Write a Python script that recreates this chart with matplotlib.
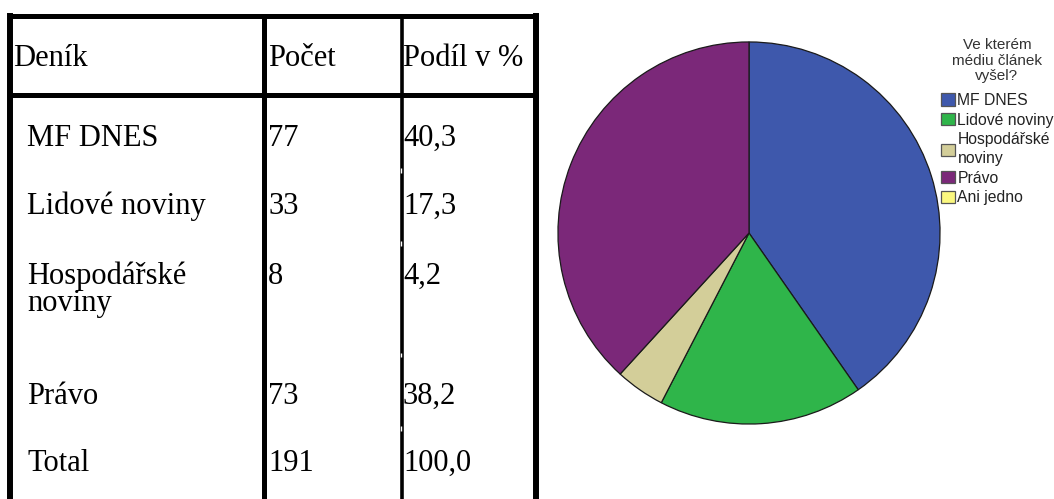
import matplotlib
matplotlib.use("Agg")
import matplotlib.pyplot as plt
from matplotlib.patches import Patch

# data
deniky = ["MF DNES", "Lidové noviny", "Hospodářské\nnoviny", "Právo"]
pocet = [77, 33, 8, 73]
legend_labels = ["MF DNES", "Lidové noviny", "Hospodářské\nnoviny", "Právo", "Ani jedno"]
legend_counts = [77, 33, 8, 73, 0]
colors = ["#3e58ac", "#2fb54a", "#d3ce99", "#7b2879", "#fbf87f"]
headers = ["Deník", "Počet", "Podíl v %"]
legend_title = "Ve kterém\nmédiu článek\nvyšel?"

total = sum(pocet)
podil = [f"{100 * p / total:.1f}".replace(".", ",") for p in pocet]

W, H = 1054, 499
fig = plt.figure(figsize=(W / 100, H / 100), dpi=100)

# table drawn in pixel coordinates
ax_t = fig.add_axes([0, 0, 1, 1])
ax_t.set_xlim(0, W)
ax_t.set_ylim(H, 0)
ax_t.axis("off")

serif = dict(family="Liberation Serif", size=22, color="black")
line_kw = dict(color="black", solid_capstyle="projecting")

ax_t.plot([10, 536], [15.5, 15.5], lw=3.6, **line_kw)
ax_t.plot([10, 536], [94.5, 94.5], lw=3.6, **line_kw)
ax_t.plot([10, 10], [15.5, H + 5], lw=4.3, **line_kw)
ax_t.plot([264, 264], [15.5, H + 5], lw=3.6, **line_kw)
ax_t.plot([401.5, 401.5], [15.5, H + 5], lw=2.6, **line_kw)
ax_t.plot([536, 536], [15.5, H + 5], lw=4.3, **line_kw)
# small breaks in the middle line
for y0, y1 in [(168, 173), (241, 246), (353, 357), (426, 431)]:
    ax_t.plot([400.5, 400.5], [y0, y1], lw=1.0, color="white", solid_capstyle="butt")

col_x = [13, 268, 403]
for x, h in zip(col_x, headers):
    ax_t.text(x, 66, h, ha="left", va="baseline", **serif)

row_base = [146, 214, 284, 404]
for y, name, n, p in zip(row_base, deniky, pocet, podil):
    for k, part in enumerate(name.split("\n")):
        ax_t.text(27, y + 27 * k, part, ha="left", va="baseline", **serif)
    ax_t.text(col_x[1], y, str(n), ha="left", va="baseline", **serif)
    ax_t.text(col_x[2], y, p, ha="left", va="baseline", **serif)
ax_t.text(27, 471, "Total", ha="left", va="baseline", **serif)
ax_t.text(col_x[1], 471, str(total), ha="left", va="baseline", **serif)
ax_t.text(col_x[2], 471, f"{100 * total / total:.1f}".replace(".", ","),
          ha="left", va="baseline", **serif)

# pie
cx, cy, r = 749, 233, 192
ax_p = fig.add_axes([(cx - r) / W, (H - cy - r) / H, 2 * r / W, 2 * r / H])
vals = [c for c in legend_counts if c > 0]
cols = [col for col, c in zip(colors, legend_counts) if c > 0]
ax_p.pie(vals, colors=cols, startangle=90, counterclock=False,
         wedgeprops=dict(edgecolor="#1a1a1a", linewidth=0.9))
ax_p.set_xlim(-1.005, 1.005)
ax_p.set_ylim(-1.005, 1.005)
ax_p.set_aspect("equal")

# legend title placed separately, then the entries
ax_t.text(997, 38, legend_title, ha="center", va="top", multialignment="center",
          linespacing=1.15, family="Liberation Sans", size=11, color="#333333")

handles = [Patch(facecolor=c, edgecolor="#555555", linewidth=0.9) for c in colors]
leg = fig.legend(handles, legend_labels, loc="upper left",
                 bbox_to_anchor=(941 / W, 1 - 93 / H), frameon=False,
                 prop=dict(family="Liberation Sans", size=11.3),
                 handlelength=0.9, handleheight=0.83, handletextpad=0.15,
                 labelspacing=0.3, borderpad=0, borderaxespad=0)
for t in leg.get_texts():
    t.set_color("#222222")
    t.set_linespacing(1.3)

fig.savefig("out.png", dpi=100)
